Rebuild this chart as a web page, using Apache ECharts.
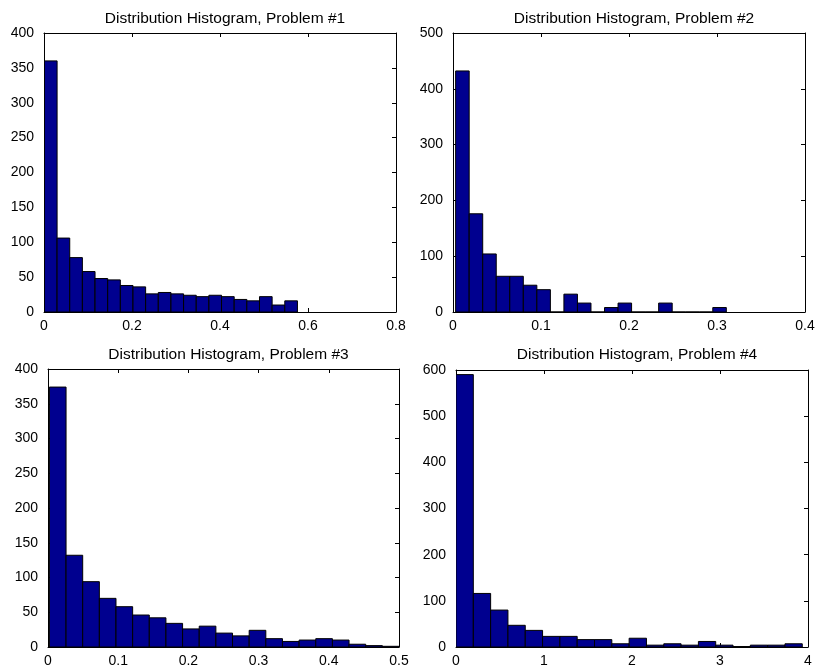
<!DOCTYPE html>
<html>
<head>
<meta charset="utf-8">
<script src="https://cdn.jsdelivr.net/npm/echarts@6/dist/echarts.min.js"></script>
<style>
html,body{margin:0;padding:0;background:#fff;}
#chart{width:818px;height:672px;}
</style>
</head>
<body>
<div id="chart"></div>
<script>
// ---- data ----
const titles = [
  'Distribution Histogram, Problem #1',
  'Distribution Histogram, Problem #2',
  'Distribution Histogram, Problem #3',
  'Distribution Histogram, Problem #4'
];
// bin counts
const counts1 = [360, 106, 78, 58, 48, 46, 38, 36, 26, 28, 26, 24, 22, 24, 22, 18, 16, 22, 10, 16];
const counts2 = [432, 176, 104, 64, 64, 48, 40, 0, 32, 16, 0, 8, 16, 0, 0, 16, 0, 0, 0, 8];
const counts3 = [374, 132, 94, 70, 58, 46, 42, 34, 26, 30, 20, 16, 24, 12, 8, 10, 12, 10, 4, 2, 1];
const counts4 = [590, 116, 80, 47, 36, 23, 23, 16, 16, 7, 19, 4, 7, 4, 12, 4, 1, 4, 4, 7];
// data range covered by the bins [min, max]
const range1 = [0.001, 0.576];
const range2 = [0.003, 0.3106];
const range3 = [0.002, 0.5];
const range4 = [0.0, 3.935];
// axes
const xMax = [0.8, 0.4, 0.5, 4];
const xStep = [0.2, 0.1, 0.1, 1];
const yMax = [400, 500, 400, 600];
const yStep = [50, 100, 50, 100];

const allCounts = [counts1, counts2, counts3, counts4];
const allRanges = [range1, range2, range3, range4];

// ---- layout ----
const grids = [
  {left: 44, top: 33, width: 352, height: 279},
  {left: 453, top: 33, width: 352, height: 279},
  {left: 48, top: 369, width: 351, height: 278},
  {left: 456, top: 370, width: 352, height: 277}
];
const titleY = [6, 342];
const FONT = '"Liberation Sans", Arial, Helvetica, sans-serif';

const chart = echarts.init(document.getElementById('chart'), null, {renderer: 'canvas'});

const xAxes = [], yAxes = [], series = [], titleOpts = [];
grids.forEach((g, i) => {
  titleOpts.push({
    text: titles[i],
    left: g.left + g.width / 2,
    top: titleY[i < 2 ? 0 : 1],
    textAlign: 'center',
    textStyle: {fontFamily: FONT, fontSize: 15.5, fontWeight: 'normal', color: '#000'}
  });
  const axLine = {show: true, onZero: false, lineStyle: {color: '#000', width: 1}};
  const tick = {show: true, inside: true, length: 4, lineStyle: {color: '#000'}};
  xAxes.push({
    type: 'value', gridIndex: i, position: 'bottom', min: 0, max: xMax[i], interval: xStep[i],
    axisLine: axLine, axisTick: tick, splitLine: {show: false},
    axisLabel: {show: true, margin: 7, fontFamily: FONT, fontSize: 14, color: '#000',
      showMinLabel: true, showMaxLabel: true}
  });
  xAxes.push({
    type: 'value', gridIndex: i, position: 'top', min: 0, max: xMax[i], interval: xStep[i],
    axisLine: axLine, axisTick: tick, splitLine: {show: false}, axisLabel: {show: false}
  });
  yAxes.push({
    type: 'value', gridIndex: i, position: 'left', min: 0, max: yMax[i], interval: yStep[i],
    axisLine: axLine, axisTick: tick, splitLine: {show: false},
    axisLabel: {show: true, margin: 10, fontFamily: FONT, fontSize: 14, color: '#000',
      showMinLabel: true, showMaxLabel: true}
  });
  yAxes.push({
    type: 'value', gridIndex: i, position: 'right', min: 0, max: yMax[i], interval: yStep[i],
    axisLine: axLine, axisTick: tick, splitLine: {show: false}, axisLabel: {show: false}
  });

  const c = allCounts[i];
  const r = allRanges[i];
  const w = (r[1] - r[0]) / c.length;
  const data = c.map((v, k) => [r[0] + k * w, r[0] + (k + 1) * w, v]);
  series.push({
    type: 'custom',
    xAxisIndex: 2 * i,
    yAxisIndex: 2 * i,
    clip: true,
    silent: true,
    animation: false,
    encode: {x: [0, 1], y: 2},
    data: data,
    renderItem: function (params, api) {
      const p0 = api.coord([api.value(0), 0]);
      const p1 = api.coord([api.value(1), api.value(2)]);
      return {
        type: 'rect',
        shape: {x: p0[0], y: p1[1], width: p1[0] - p0[0], height: p0[1] - p1[1]},
        style: {fill: '#00008F', stroke: '#000', lineWidth: 1}
      };
    }
  });
});

chart.setOption({
  animation: false,
  backgroundColor: '#fff',
  title: titleOpts,
  grid: grids.map(g => Object.assign({containLabel: false}, g)),
  xAxis: xAxes,
  yAxis: yAxes,
  series: series
});
</script>
</body>
</html>
